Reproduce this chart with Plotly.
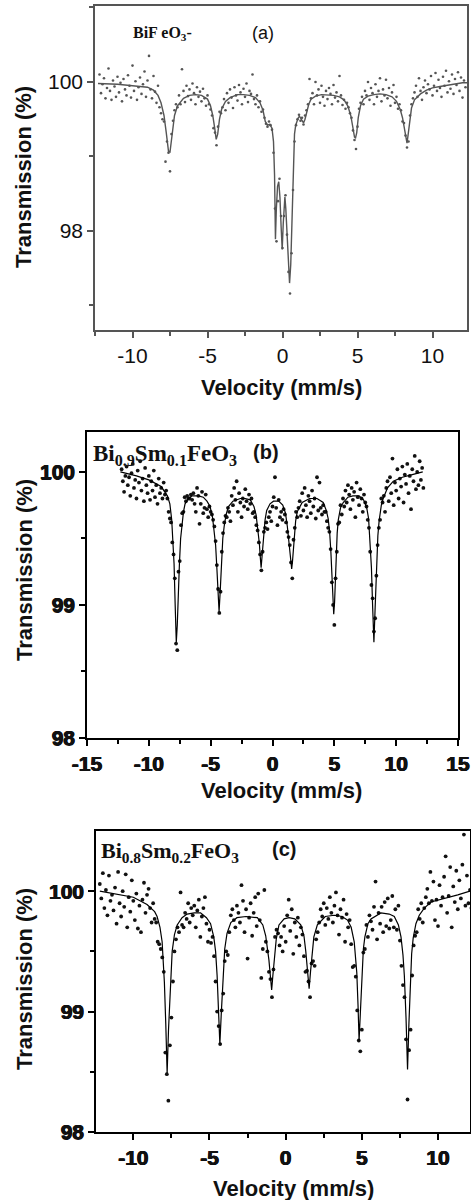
import plotly.graph_objects as go

SANS = "Liberation Sans, Arial, sans-serif"
SERIF = "Liberation Serif, Times New Roman, serif"
W, H = 471, 1200

# ---------------- tick positions / labels ----------------
x_ticks_ac = [-10, -5, 0, 5, 10]
x_labels_ac = ["-10", "-5", "0", "5", "10"]
x_minor_ac = [-12.5, -7.5, -2.5, 2.5, 7.5, 12.5]
x_ticks_b = [-15, -10, -5, 0, 5, 10, 15]
x_labels_b = ["-15", "-10", "-5", "0", "5", "10", "15"]
x_minor_b = [-12.5, -7.5, -2.5, 2.5, 7.5, 12.5]
y_ticks_a = [98, 100]
y_labels_a = ["98", "100"]
y_minor_a = [97, 99, 101]
y_ticks_bc = [98, 99, 100]
y_labels_bc = ["98", "99", "100"]
y_minor_bc = [98.5, 99.5]

# ---------------- data: velocity channels (mm/s) shared by the three spectra ----------------
velocity = [
    -12.2, -12.1, -12.0, -11.9, -11.8, -11.7, -11.6, -11.5, -11.4, -11.3,
    -11.2, -11.1, -11.0, -10.9, -10.8, -10.7, -10.6, -10.5, -10.4, -10.3,
    -10.2, -10.1, -10.0, -9.9, -9.8, -9.7, -9.6, -9.5, -9.4, -9.3,
    -9.2, -9.1, -9.0, -8.9, -8.8, -8.7, -8.6, -8.5, -8.4, -8.3,
    -8.2, -8.1, -8.0, -7.9, -7.8, -7.7, -7.6, -7.5, -7.4, -7.3,
    -7.2, -7.1, -7.0, -6.9, -6.8, -6.7, -6.6, -6.5, -6.4, -6.3,
    -6.2, -6.1, -6.0, -5.9, -5.8, -5.7, -5.6, -5.5, -5.4, -5.3,
    -5.2, -5.1, -5.0, -4.9, -4.8, -4.7, -4.6, -4.5, -4.4, -4.3,
    -4.2, -4.1, -4.0, -3.9, -3.8, -3.7, -3.6, -3.5, -3.4, -3.3,
    -3.2, -3.1, -3.0, -2.9, -2.8, -2.7, -2.6, -2.5, -2.4, -2.3,
    -2.2, -2.1, -2.0, -1.9, -1.8, -1.7, -1.6, -1.5, -1.4, -1.3,
    -1.2, -1.1, -1.0, -0.9, -0.8, -0.7, -0.6, -0.5, -0.4, -0.3,
    -0.2, -0.1, 0.0, 0.1, 0.2, 0.3, 0.4, 0.5, 0.6, 0.7,
    0.8, 0.9, 1.0, 1.1, 1.2, 1.3, 1.4, 1.5, 1.6, 1.7,
    1.8, 1.9, 2.0, 2.1, 2.2, 2.3, 2.4, 2.5, 2.6, 2.7,
    2.8, 2.9, 3.0, 3.1, 3.2, 3.3, 3.4, 3.5, 3.6, 3.7,
    3.8, 3.9, 4.0, 4.1, 4.2, 4.3, 4.4, 4.5, 4.6, 4.7,
    4.8, 4.9, 5.0, 5.1, 5.2, 5.3, 5.4, 5.5, 5.6, 5.7,
    5.8, 5.9, 6.0, 6.1, 6.2, 6.3, 6.4, 6.5, 6.6, 6.7,
    6.8, 6.9, 7.0, 7.1, 7.2, 7.3, 7.4, 7.5, 7.6, 7.7,
    7.8, 7.9, 8.0, 8.1, 8.2, 8.3, 8.4, 8.5, 8.6, 8.7,
    8.8, 8.9, 9.0, 9.1, 9.2, 9.3, 9.4, 9.5, 9.6, 9.7,
    9.8, 9.9, 10.0, 10.1, 10.2, 10.3, 10.4, 10.5, 10.6, 10.7,
    10.8, 10.9, 11.0, 11.1, 11.2, 11.3, 11.4, 11.5, 11.6, 11.7,
    11.8, 11.9, 12.0, 12.1, 12.2,
]

# ---------------- (a) BiFeO3 : measured transmission (%) ----------------
trans_a = [
    100.10, 99.85, 99.97, 100.05, 99.78, 99.92, 100.18, 99.88, 99.76, 100.02,
    99.94, 99.80, 100.07, 99.86, 99.99, 99.74, 100.04, 99.90, 99.82, 100.09,
    99.95, 99.79, 100.22, 99.88, 100.01, 99.76, 99.93, 100.06, 99.84, 99.97,
    100.14, 99.80, 100.02, 100.35, 99.90, 99.78, 100.08, 99.87, 99.72, 99.95,
    99.66, 99.58, 99.50, 99.47, 98.93, 99.20, 99.05, 98.80, 99.30, 99.48,
    99.62, 99.70, 99.66, 99.82, 99.70, 100.17, 99.88, 99.73, 99.95, 99.81,
    99.90, 99.76, 99.98, 99.85, 99.70, 99.93, 99.80, 99.87, 99.74, 99.91,
    99.78, 99.68, 99.82, 99.70, 99.63, 99.55, 99.38, 99.32, 99.15, 99.40,
    99.60, 99.58, 99.66, 99.77, 99.62, 99.85, 99.72, 99.90, 99.79, 99.65,
    99.93, 99.82, 99.75, 99.96, 99.86, 99.70, 99.91, 99.80, 99.98, 99.73,
    99.88, 99.84, 100.10, 99.77, 99.70, 99.82, 99.66, 99.74, 99.60, 99.63,
    99.52, 99.44, 99.40, 99.47, 99.42, 99.36, 99.05, 98.30, 97.86, 98.40,
    98.70, 98.20, 97.77, 98.20, 98.48, 97.95, 97.45, 97.16, 97.70, 98.55,
    99.20, 99.42, 99.50, 99.56, 99.48, 99.52, 99.43, 99.55, 99.62, 99.70,
    100.04, 99.78, 99.85, 99.70, 100.00, 99.82, 99.90, 99.72, 99.95, 99.80,
    99.68, 99.88, 99.77, 99.92, 99.84, 99.70, 99.96, 99.79, 99.86, 99.74,
    100.08, 99.82, 99.69, 99.76, 99.64, 99.72, 99.66, 99.58, 99.52, 99.35,
    99.22, 99.10, 99.40, 99.64, 99.72, 99.80, 99.70, 99.88, 99.82, 100.00,
    99.76, 99.92, 99.85, 99.70, 99.97, 99.80, 99.88, 100.05, 99.74, 99.90,
    99.82, 100.03, 99.78, 99.92, 99.68, 99.86, 99.96, 99.72, 99.80, 99.64,
    99.70, 99.62, 99.47, 99.45, 99.28, 99.12, 99.20, 99.55, 99.70, 99.78,
    99.86, 99.95, 99.80, 100.05, 99.88, 99.76, 99.93, 100.02, 99.85, 99.97,
    99.90, 100.08, 99.82, 99.95, 100.12, 99.88, 100.03, 99.92, 99.80, 100.07,
    99.95, 100.15, 99.86, 100.01, 99.91, 100.10, 99.84, 100.04, 99.96, 100.13,
    99.88, 100.06, 99.79, 100.02, 99.93,
]

# fitted curve (a)
fit_a_v = [-12.3, -11.0, -10.0, -9.0, -8.6, -8.3, -8.1, -7.9, -7.75, -7.6,
           -7.5, -7.35, -7.2, -7.0, -6.6, -6.2, -5.8, -5.4, -5.0, -4.8,
           -4.65, -4.52, -4.42, -4.32, -4.2, -4.05, -3.8, -3.5, -3.0, -2.6,
           -2.2, -1.8, -1.5, -1.3, -1.15, -1.0, -0.85, -0.7, -0.6, -0.53,
           -0.47, -0.41, -0.33, -0.25, -0.17, -0.09, -0.02, 0.05, 0.11, 0.16,
           0.22, 0.3, 0.38, 0.47, 0.55, 0.63, 0.69, 0.75, 0.8, 0.88,
           0.95, 1.05, 1.13, 1.25, 1.4, 1.5, 1.6, 1.75, 1.9, 2.2,
           2.6, 3.0, 3.4, 3.8, 4.1, 4.35, 4.55, 4.7, 4.8, 4.87,
           4.95, 5.05, 5.2, 5.4, 5.7, 6.1, 6.5, 6.9, 7.3, 7.6,
           7.85, 8.0, 8.12, 8.22, 8.3, 8.38, 8.48, 8.6, 8.8, 9.2,
           9.6, 10.0, 10.5, 11.0, 11.5, 12.0, 12.3]
fit_a_t = [99.98, 99.97, 99.95, 99.93, 99.89, 99.82, 99.72, 99.55, 99.32, 99.07,
           99.06, 99.30, 99.55, 99.68, 99.78, 99.82, 99.83, 99.82, 99.77, 99.68,
           99.55, 99.38, 99.23, 99.30, 99.50, 99.64, 99.74, 99.79, 99.83, 99.83,
           99.82, 99.79, 99.72, 99.62, 99.47, 99.42, 99.43, 99.38, 99.20, 98.75,
           97.89, 98.30, 98.60, 98.66, 98.45, 98.05, 97.75, 98.10, 98.40, 98.46,
           98.30, 97.95, 97.55, 97.30, 97.55, 98.20, 98.62, 99.05, 99.30, 99.42,
           99.47, 99.52, 99.54, 99.50, 99.45, 99.50, 99.58, 99.70, 99.77, 99.81,
           99.83, 99.83, 99.82, 99.80, 99.76, 99.68, 99.55, 99.38, 99.26, 99.25,
           99.32, 99.52, 99.68, 99.77, 99.81, 99.83, 99.84, 99.83, 99.80, 99.74,
           99.63, 99.52, 99.38, 99.24, 99.18, 99.30, 99.50, 99.65, 99.76, 99.84,
           99.89, 99.92, 99.94, 99.96, 99.97, 99.99, 99.99]

# ---------------- (b) Bi0.9Sm0.1FeO3 ----------------
trans_b = [
    100.02, 99.93, 99.85, 99.97, 100.04, 99.90, 99.96, 99.82, 99.99, 100.06,
    99.88, 99.94, 99.80, 100.01, 99.92, 100.08, 99.86, 99.95, 99.78, 100.03,
    99.90, 99.84, 99.97, 99.79, 99.93, 99.86, 100.01, 99.81, 99.90, 99.76,
    99.95, 99.84, 99.88, 99.80, 99.92, 99.83, 99.86, 99.80, 99.70, 99.65,
    99.62, 99.47, 99.38, 99.20, 98.71, 98.66, 99.25, 99.33, 99.60, 99.69,
    99.70, 99.81, 99.78, 99.82, 99.80, 99.80, 99.83, 99.79, 99.84, 99.76,
    99.70, 99.88, 99.82, 99.61, 99.76, 99.85, 99.69, 99.73, 99.83, 99.72,
    99.66, 99.74, 99.70, 99.68, 99.64, 99.59, 99.48, 99.30, 99.12, 98.94,
    99.10, 99.40, 99.54, 99.62, 99.67, 99.66, 99.73, 99.70, 99.63, 99.82,
    99.75, 99.88, 99.79, 99.93, 99.70, 99.84, 99.77, 99.66, 99.80, 99.74,
    99.87, 99.78, 99.72, 99.83, 99.76, 99.80, 99.69, 99.70, 99.66, 99.60,
    99.56, 99.47, 99.38, 99.26, 99.40, 99.55, 99.58, 99.62, 99.57, 99.66,
    99.70, 99.63, 99.74, 99.81, 99.96, 99.73, 99.60, 99.79, 99.66, 99.70,
    99.64, 99.72, 99.68, 99.62, 99.55, 99.51, 99.45, 99.32, 99.20, 99.49,
    99.58, 99.70, 99.66, 99.73, 99.78, 99.67, 99.84, 99.71, 99.88, 99.75,
    99.66, 99.82, 99.78, 99.69, 99.86, 99.74, 99.80, 99.65, 99.96, 99.71,
    99.92, 99.73, 99.68, 99.75, 99.70, 99.70, 99.63, 99.58, 99.55, 99.42,
    99.17, 99.00, 98.85, 99.20, 99.40, 99.61, 99.62, 99.75, 99.68, 99.80,
    99.74, 99.86, 99.77, 99.90, 99.83, 99.72, 99.88, 99.79, 99.85, 99.66,
    99.92, 99.81, 99.75, 99.87, 99.80, 99.70, 99.83, 99.77, 99.74, 99.64,
    99.58, 99.40, 99.15, 99.05, 98.80, 98.90, 99.22, 99.45, 99.58, 99.64,
    99.80, 99.77, 99.82, 99.70, 99.88, 99.93, 99.78, 99.96, 99.84, 100.10,
    99.75, 99.92, 99.86, 100.02, 99.80, 99.95, 99.89, 100.04, 99.77, 99.98,
    99.91, 100.06, 99.84, 99.97, 99.72, 100.02, 99.93, 100.12, 99.87, 100.00,
    99.90, 100.08, 99.94, 100.03, 99.88,
]

fit_b_v = [-12.3, -11.0, -10.0, -9.0, -8.5, -8.3, -8.15, -8.05, -7.96, -7.87,
           -7.78, -7.7, -7.62, -7.53, -7.43, -7.34, -7.2, -7.07, -6.8, -6.5,
           -6.0, -5.6, -5.3, -5.05, -4.85, -4.73, -4.6, -4.5, -4.4, -4.32,
           -4.23, -4.13, -4.02, -3.91, -3.75, -3.56, -3.2, -2.6, -2.2, -1.8,
           -1.5, -1.33, -1.18, -1.06, -0.98, -0.92, -0.85, -0.74, -0.6, -0.47,
           -0.2, 0.08, 0.5, 0.83, 1.05, 1.2, 1.32, 1.41, 1.48, 1.55,
           1.62, 1.74, 1.87, 2.0, 2.4, 3.0, 3.6, 4.1, 4.35, 4.5,
           4.62, 4.72, 4.82, 4.9, 4.95, 5.02, 5.13, 5.23, 5.32, 5.5,
           5.72, 6.1, 6.5, 7.0, 7.36, 7.6, 7.77, 7.9, 8.0, 8.1,
           8.2, 8.3, 8.4, 8.52, 8.62, 8.8, 8.95, 9.3, 9.77, 10.5,
           11.3, 12.15]
fit_b_t = [100.0, 99.97, 99.94, 99.89, 99.82, 99.76, 99.64, 99.48, 99.31, 99.0,
           98.72, 98.85, 99.1, 99.3, 99.5, 99.6, 99.7, 99.76, 99.8, 99.82,
           99.82, 99.81, 99.78, 99.74, 99.66, 99.56, 99.45, 99.28, 99.07, 98.95,
           99.1, 99.31, 99.5, 99.59, 99.68, 99.74, 99.78, 99.8, 99.8, 99.79,
           99.74, 99.68, 99.58, 99.46, 99.35, 99.28, 99.36, 99.52, 99.64, 99.71,
           99.76, 99.78, 99.78, 99.75, 99.69, 99.59, 99.48, 99.4, 99.31, 99.27,
           99.33, 99.5, 99.63, 99.7, 99.77, 99.8, 99.8, 99.77, 99.71, 99.65,
           99.55, 99.4, 99.15, 98.98, 98.93, 99.02, 99.35, 99.54, 99.64, 99.73,
           99.77, 99.81, 99.82, 99.82, 99.79, 99.74, 99.65, 99.48, 99.28, 98.98,
           98.72, 98.98, 99.3, 99.52, 99.63, 99.75, 99.8, 99.88, 99.93, 99.96,
           99.98, 100.0]

# ---------------- (c) Bi0.8Sm0.2FeO3 ----------------
trans_c = [
    100.06, 99.94, 100.15, 99.86, 100.01, 99.80, 100.13, 99.92, 99.97, 99.84,
    100.03, 99.73, 100.16, 99.90, 99.79, 100.00, 99.87, 100.14, 99.70, 99.95,
    99.83, 100.09, 99.92, 99.76, 99.98, 99.69, 99.88, 99.66, 99.93, 100.07,
    99.82, 99.97, 100.02, 99.86, 99.74, 99.90, 99.77, 99.74, 99.58, 99.56,
    99.52, 99.45, 99.33, 98.66, 98.48, 98.26, 98.72, 98.95, 99.25, 99.50,
    99.60, 99.70, 99.66, 99.99, 99.72, 99.70, 99.82, 99.77, 99.90, 99.74,
    99.86, 99.80, 99.88, 99.70, 99.84, 99.93, 99.62, 99.79, 99.86, 99.95,
    99.73, 99.58, 99.68, 99.57, 99.62, 99.46, 99.25, 99.00, 98.88, 98.73,
    99.01, 99.15, 99.42, 99.50, 99.47, 99.66, 99.80, 99.85, 99.76, 99.70,
    99.88, 99.82, 99.74, 100.05, 99.92, 99.66, 99.85, 99.44, 99.78, 99.90,
    99.63, 99.82, 99.95, 99.71, 99.98, 99.76, 99.28, 99.52, 100.01, 99.58,
    99.50, 99.33, 99.27, 99.12, 99.35, 99.62, 99.68, 99.65, 99.55, 99.62,
    99.50, 99.71, 99.58, 99.80, 99.93, 99.67, 99.85, 99.48, 99.74, 99.62,
    99.78, 99.55, 99.70, 99.64, 99.46, 99.33, 99.34, 99.25, 99.12, 99.40,
    99.42, 99.38, 99.60, 99.66, 99.74, 99.85, 99.79, 99.90, 99.72, 99.86,
    99.77, 99.95, 99.82, 99.74, 99.88, 99.99, 99.80, 99.64, 99.85, 99.78,
    99.93, 99.58, 99.81, 99.70, 99.76, 99.56, 99.37, 99.38, 99.29, 99.01,
    98.76, 98.67, 98.85, 99.49, 99.52, 99.72, 99.62, 99.80, 99.75, 99.68,
    99.87, 100.08, 99.60, 99.82, 99.73, 99.87, 99.66, 99.91, 99.71, 99.94,
    99.69, 99.76, 99.96, 99.70, 99.85, 99.68, 99.88, 99.59, 99.38, 99.22,
    99.12, 98.77, 98.27, 98.68, 98.85, 99.30, 99.55, 99.63, 99.66, 99.85,
    99.77, 99.90, 99.74, 99.86, 99.95, 100.02, 99.90, 100.16, 99.92, 100.08,
    99.76, 99.93, 99.71, 100.05, 99.88, 99.95, 100.12, 100.29, 99.82, 99.96,
    100.20, 99.70, 100.04, 99.91, 100.17, 99.85, 100.09, 99.94, 100.22, 100.47,
    99.88, 100.13, 99.90, 100.01, 99.86,
]

fit_c_v = [-12.2, -11.0, -10.0, -9.1, -8.6, -8.44, -8.25, -8.11, -8.03, -7.96,
           -7.87, -7.78, -7.69, -7.6, -7.52, -7.45, -7.3, -7.12, -6.8, -6.47,
           -6.0, -5.59, -5.2, -4.93, -4.72, -4.6, -4.5, -4.41, -4.32, -4.22,
           -4.12, -4.0, -3.85, -3.6, -3.2, -2.6, -1.86, -1.5, -1.31, -1.18,
           -1.1, -1.0, -0.92, -0.84, -0.77, -0.62, -0.44, -0.1, 0.22, 0.6,
           0.99, 1.2, 1.32, 1.43, 1.54, 1.63, 1.71, 1.85, 2.08, 2.6,
           3.18, 3.7, 4.06, 4.3, 4.5, 4.6, 4.67, 4.75, 4.82, 4.9,
           5.0, 5.1, 5.2, 5.4, 5.6, 6.25, 6.8, 7.13, 7.4, 7.57,
           7.7, 7.79, 7.9, 8.0, 8.09, 8.18, 8.27, 8.37, 8.55, 8.77,
           9.1, 9.54, 10.5, 11.3, 12.1]
fit_c_t = [100.0, 99.97, 99.95, 99.89, 99.83, 99.79, 99.7, 99.58, 99.42, 99.24,
           98.9, 98.49, 98.85, 99.13, 99.35, 99.5, 99.64, 99.72, 99.78, 99.81,
           99.82, 99.82, 99.78, 99.73, 99.62, 99.5, 99.3, 99.02, 98.73, 99.0,
           99.3, 99.52, 99.65, 99.74, 99.78, 99.79, 99.78, 99.72, 99.63, 99.52,
           99.43, 99.29, 99.18, 99.3, 99.42, 99.6, 99.72, 99.77, 99.78, 99.77,
           99.72, 99.63, 99.5, 99.35, 99.19, 99.33, 99.46, 99.62, 99.72, 99.79,
           99.8, 99.79, 99.76, 99.7, 99.58, 99.45, 99.32, 99.05, 98.76, 98.98,
           99.3, 99.52, 99.62, 99.73, 99.77, 99.82, 99.81, 99.79, 99.72, 99.62,
           99.47, 99.3, 98.95, 98.52, 98.9, 99.25, 99.48, 99.61, 99.73, 99.8,
           99.86, 99.91, 99.94, 99.97, 100.0]

# ---------------- figure ----------------
fig = go.Figure()


def px_dom_x(a, b):
    return [a / W, b / W]


def px_dom_y(top, bottom):
    return [1 - bottom / H, 1 - top / H]


panels = [
    ("x", "y", trans_a, fit_a_v, fit_a_t, 2.6, "#555555", "#555555", 1.4),
    ("x2", "y2", trans_b, fit_b_v, fit_b_t, 3.8, "#111111", "#000000", 1.2),
    ("x3", "y3", trans_c, fit_c_v, fit_c_t, 3.8, "#111111", "#000000", 1.2),
]
for xa, ya, yv, fv, ft, ms, mc, lc, lw in panels:
    fig.add_trace(go.Scatter(x=velocity, y=yv, mode="markers", xaxis=xa, yaxis=ya,
                             marker=dict(size=ms, color=mc, line=dict(width=0)),
                             showlegend=False, hoverinfo="skip"))
    fig.add_trace(go.Scatter(x=fv, y=ft, mode="lines", xaxis=xa, yaxis=ya,
                             line=dict(color=lc, width=lw),
                             showlegend=False, hoverinfo="skip"))


def axis(domain, rng, anchor, tvals, tlabels, mvals, bold, color, lw, fsize):
    font = dict(family=SANS, size=fsize, color="#111111",
                weight="bold" if bold else "normal")
    if bold:
        font["shadow"] = "0.5px 0 0 #111111, -0.5px 0 0 #111111, 0 0.4px 0 #111111"
    return dict(
        domain=domain, range=rng, anchor=anchor, showgrid=False, zeroline=False,
        automargin=False,
        showline=True, mirror=True, linecolor=color, linewidth=lw,
        ticks="outside", ticklen=6, tickwidth=lw, tickcolor=color,
        tickmode="array", tickvals=tvals,
        ticktext=[("<b>%s</b>" % t) if bold else t for t in tlabels],
        minor=dict(tickmode="array", tickvals=mvals, ticks="outside", ticklen=4,
                   tickwidth=lw, tickcolor=color, showgrid=False),
        tickfont=font,
        fixedrange=True,
    )


layout = dict(
    width=W, height=H, margin=dict(l=0, r=0, t=0, b=0, autoexpand=False),
    paper_bgcolor="white", plot_bgcolor="white", showlegend=False,
    xaxis=axis(px_dom_x(95, 467), [-12.5, 12.3], "y", x_ticks_ac, x_labels_ac, x_minor_ac,
               False, "#555555", 1.5, 21),
    yaxis=axis(px_dom_y(6, 330), [96.67, 101.02], "x", y_ticks_a, y_labels_a, y_minor_a,
               False, "#555555", 1.5, 21),
    xaxis2=axis(px_dom_x(87, 458), [-15, 15], "y2", x_ticks_b, x_labels_b, x_minor_b,
                True, "#000000", 1.5, 21),
    yaxis2=axis(px_dom_y(432, 738), [98, 100.3], "x2", y_ticks_bc, y_labels_bc, y_minor_bc,
                True, "#000000", 1.5, 21),
    xaxis3=axis(px_dom_x(96, 470), [-12.45, 12.1], "y3", x_ticks_ac, x_labels_ac, x_minor_ac,
                True, "#000000", 1.5, 21),
    yaxis3=axis(px_dom_y(831, 1132), [98, 100.5], "x3", y_ticks_bc, y_labels_bc, y_minor_bc,
                True, "#000000", 1.5, 21),
)
fig.update_layout(**layout)


def ann(text, x, y, size, family=SANS, bold=True, angle=0, xanchor="center", yanchor="middle"):
    return dict(text=text, x=x / W, y=1 - y / H, xref="paper", yref="paper",
                showarrow=False, textangle=angle, xanchor=xanchor, yanchor=yanchor,
                font=dict(family=family, size=size, color="#111111",
                          weight="bold" if bold else "normal"))


annotations = [
    # axis titles
    ann("Transmission (%)", 24, 177, 22, angle=-90),
    ann("Velocity (mm/s)", 281, 388, 22),
    ann("Transmission (%)", 24, 570, 22, angle=-90),
    ann("Velocity (mm/s)", 281, 790, 22),
    ann("Transmission (%)", 24, 979, 22, angle=-90),
    ann("Velocity (mm/s)", 293, 1188, 22),
    # panel labels
    ann("BiF eO<sub>3</sub>-", 131, 34, 16, family=SERIF, xanchor="left"),
    ann("(a)", 263, 33, 18, bold=False),
    ann("Bi<sub>0.9</sub>Sm<sub>0.1</sub>FeO<sub>3</sub>", 91, 455, 23, family=SERIF, xanchor="left"),
    ann("(b)", 266, 452, 20),
    ann("Bi<sub>0.8</sub>Sm<sub>0.2</sub>FeO<sub>3</sub>", 99, 852, 22, family=SERIF, xanchor="left"),
    ann("(c)", 284, 849, 20),
]
fig.update_layout(annotations=annotations)

fig.write_html("out.html", config={"displayModeBar": False},
               post_script="document.body.style.margin='0';")
